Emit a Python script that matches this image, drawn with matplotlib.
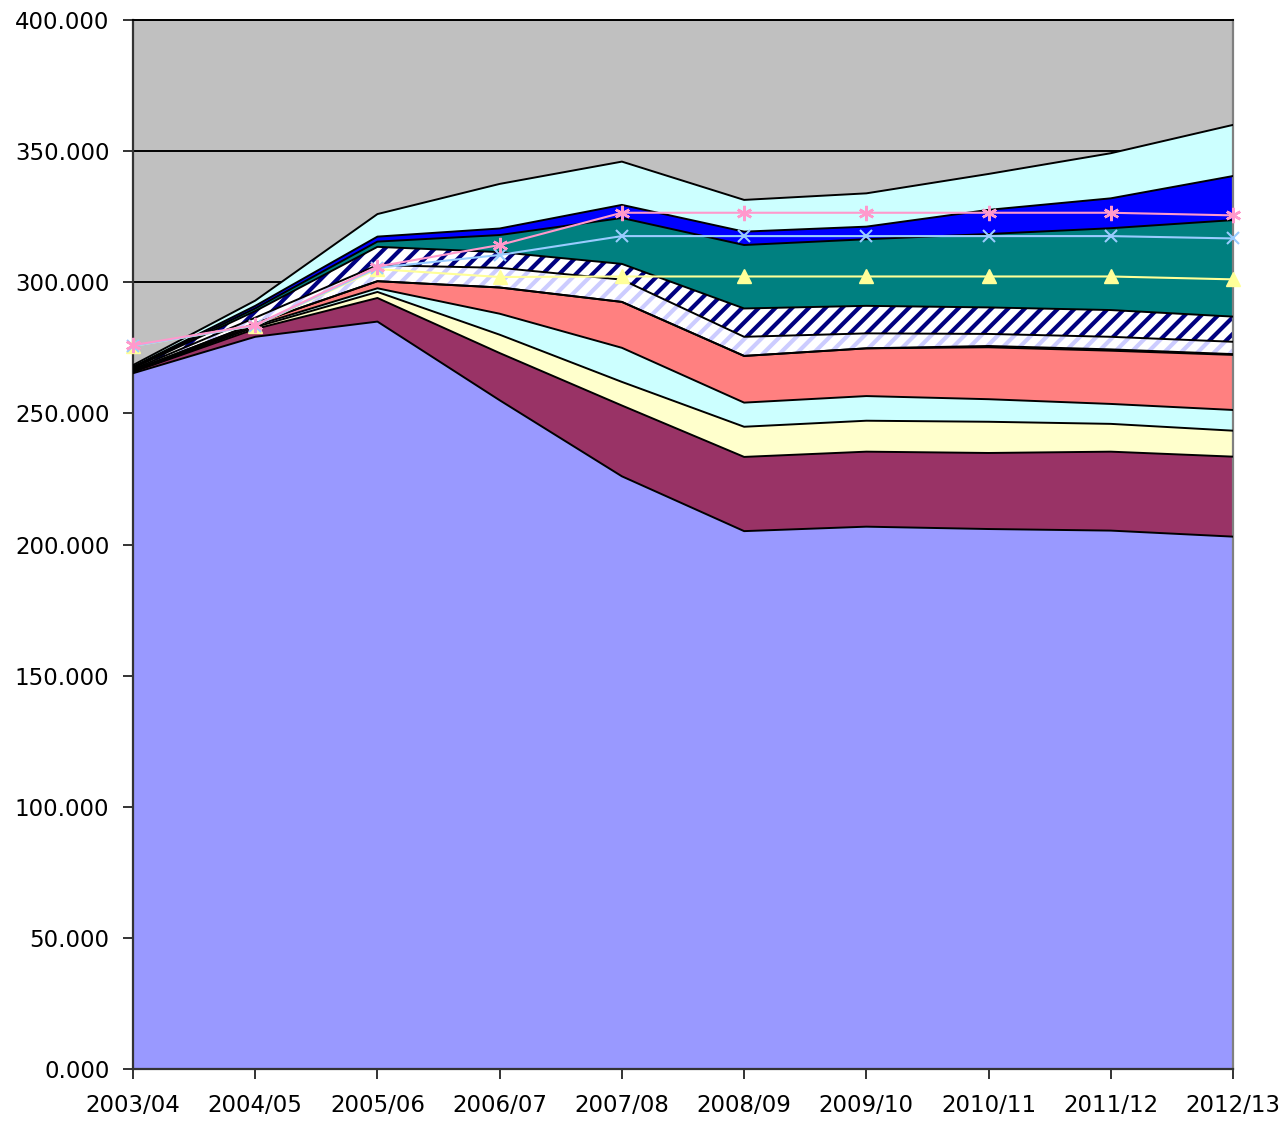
import numpy as np
import matplotlib
matplotlib.use("Agg")
import matplotlib.pyplot as plt

years = ["2003/04", "2004/05", "2005/06", "2006/07", "2007/08",
         "2008/09", "2009/10", "2010/11", "2011/12", "2012/13"]

# stacked series (values in thousands), bottom to top
s_base = [265.3, 279.2, 285.0, 255.0, 226.0, 205.1, 206.8, 205.9, 205.3, 203.0]
s_maroon = [0.5, 3.0, 9.0, 18.0, 27.0, 28.3, 28.6, 29.0, 30.1, 30.5]
s_yellow = [0.2, 0.7, 2.3, 7.0, 9.0, 11.5, 11.8, 11.9, 10.6, 9.9]
s_cyan = [0.2, 0.6, 1.4, 8.0, 13.0, 9.2, 9.4, 8.6, 7.6, 7.9]
s_salmon = [0.2, 0.8, 2.7, 10.0, 17.5, 17.8, 18.2, 19.8, 20.3, 21.0]
s_thinblue = [0.0, 0.0, 0.0, 0.0, 0.0, 0.0, 0.0, 0.5, 0.5, 0.3]
s_lighthatch = [0.4, 2.2, 6.1, 7.5, 8.5, 7.3, 5.7, 4.6, 4.8, 4.7]
s_darkhatch = [0.4, 2.5, 7.0, 6.0, 6.0, 10.8, 10.5, 10.1, 10.2, 9.6]
s_teal = [0.3, 1.0, 2.0, 6.5, 17.5, 24.2, 25.4, 28.0, 31.2, 36.8]
s_blue = [0.3, 1.0, 1.9, 2.5, 5.0, 5.1, 4.8, 9.2, 11.4, 16.8]
s_cyan2 = [0.6, 2.0, 8.6, 17.0, 16.5, 12.1, 12.7, 13.7, 17.2, 19.5]

# line series
l_yellow = [275.7, 283.5, 305.0, 302.0, 302.2, 302.2, 302.2, 302.2, 302.2, 301.1]
l_lightblue = [275.7, 283.5, 305.5, 310.4, 317.6, 317.6, 317.6, 317.6, 317.6, 316.7]
l_pink = [276.0, 283.7, 306.0, 314.2, 326.5, 326.5, 326.5, 326.5, 326.5, 325.5]

layers = [
    (s_base, "#9999FF", None, None),
    (s_maroon, "#993366", None, None),
    (s_yellow, "#FFFFCC", None, None),
    (s_cyan, "#CCFFFF", None, None),
    (s_salmon, "#FF8080", None, None),
    (s_thinblue, "#0066CC", None, None),
    (s_lighthatch, "white", "//", "#CCCCFF"),
    (s_darkhatch, "white", "//", "#000080"),
    (s_teal, "#008080", None, None),
    (s_blue, "#0000FF", None, None),
    (s_cyan2, "#CCFFFF", None, None),
]

matplotlib.rcParams["hatch.linewidth"] = 3.0
matplotlib.rcParams["font.family"] = "DejaVu Sans"

figure = plt.figure(figsize=(12.81, 11.25), dpi=100)
axis = figure.add_axes([133 / 1281, 56 / 1125, 1100 / 1281, 1049 / 1125])
axis.set_facecolor("#C0C0C0")

x = np.arange(len(years))
bottom = np.zeros(len(years))
for values, color, hatch, hcolor in layers:
    top = bottom + np.array(values)
    if hatch:
        axis.fill_between(x, bottom, top, facecolor=color, hatch=hatch,
                          edgecolor=hcolor, linewidth=0, zorder=2)
    else:
        axis.fill_between(x, bottom, top, facecolor=color, linewidth=0, zorder=2)
    bottom = top

# black borders between the areas
bottom = np.zeros(len(years))
for values, color, hatch, hcolor in layers:
    bottom = bottom + np.array(values)
    axis.plot(x, bottom, color="black", linewidth=1.4, zorder=3)

axis.plot(x, l_yellow, color="#FFFF99", linewidth=1.5, marker="^",
          markersize=10, markerfacecolor="#FFFF99", markeredgecolor="#FFFF99",
          zorder=4, clip_on=False)
axis.plot(x, l_lightblue, color="#99CCFF", linewidth=1.5, marker="x",
          markersize=9, markeredgewidth=1.5, zorder=4, clip_on=False)
axis.plot(x, l_pink, color="#FF99CC", linewidth=1.5, marker=(6, 2, 0),
          markersize=11, markeredgewidth=1.8, markeredgecolor="#FF99CC",
          zorder=4, clip_on=False)

axis.set_xlim(0, len(years) - 1)
axis.set_ylim(0, 400)
axis.set_xticks(x)
axis.set_xticklabels(years)
yt = np.arange(0, 401, 50)
axis.set_yticks(yt)
axis.set_yticklabels([f"{v:.3f}" for v in yt])
axis.yaxis.grid(True, color="black", linewidth=1.4, zorder=1)
axis.set_axisbelow(True)

axis.tick_params(axis="both", labelsize=16.5, direction="out", length=7,
                 width=1.4, color="#333333")
axis.tick_params(axis="x", pad=11)
axis.tick_params(axis="y", pad=10)

for side in ["left", "bottom"]:
    axis.spines[side].set_color("#333333")
    axis.spines[side].set_linewidth(1.6)
axis.spines["right"].set_color("#808080")
axis.spines["right"].set_linewidth(1.6)
axis.spines["top"].set_color("black")
axis.spines["top"].set_linewidth(1.4)

figure.savefig("out.png", dpi=100)
